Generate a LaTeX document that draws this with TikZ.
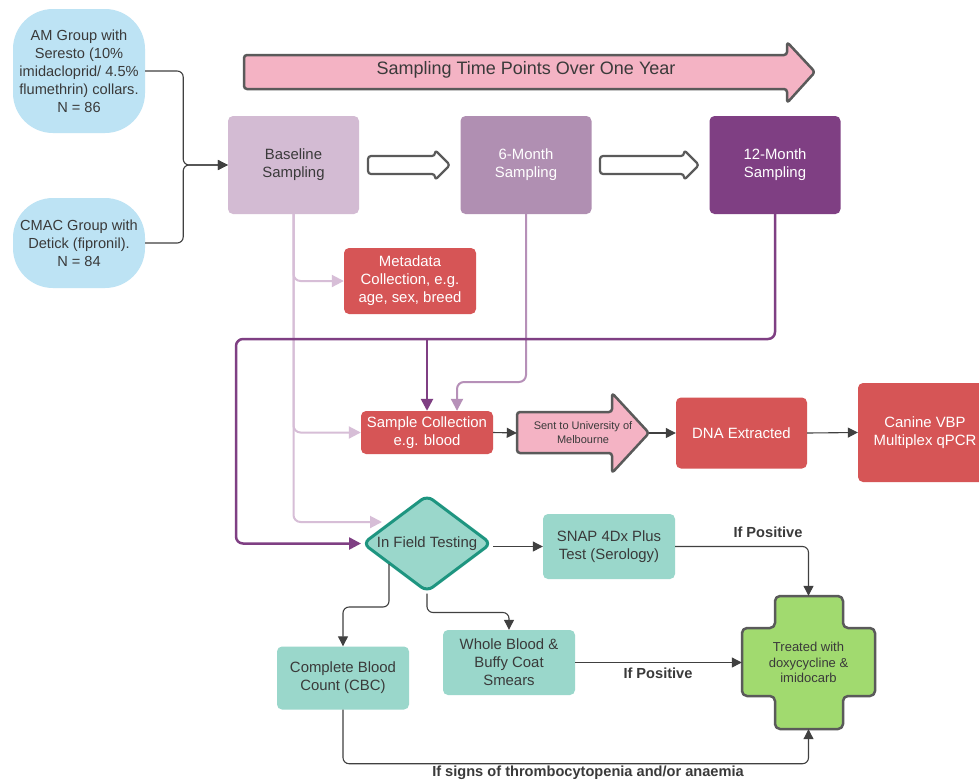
\documentclass[tikz,border=0pt]{standalone}
\usepackage{fontspec}
\setmainfont{Liberation Sans}
\usetikzlibrary{shapes.geometric,arrows.meta}
\definecolor{blueF}{HTML}{BDE3F4}
\definecolor{baseF}{HTML}{D3BBD3}
\definecolor{sixF}{HTML}{B08FB2}
\definecolor{twelveF}{HTML}{7F3F83}
\definecolor{pinkF}{HTML}{F4B3C4}
\definecolor{redF}{HTML}{D65556}
\definecolor{tealF}{HTML}{9AD7CB}
\definecolor{tealD}{HTML}{1E9580}
\definecolor{greenF}{HTML}{A1DA6F}
\definecolor{outl}{HTML}{5A5A5A}
\definecolor{txt}{HTML}{3A3A3A}
\definecolor{lpL}{HTML}{D7BED7}
\definecolor{mpL}{HTML}{B690B8}
\definecolor{connC}{HTML}{404040}
\begin{document}
\begin{tikzpicture}[x=1pt,y=-1pt,
  every node/.style={align=center,inner sep=0pt,text=txt},
  nf/.style={font=\fontsize{14.9}{18}\selectfont},
  grp/.style={font=\fontsize{14.6}{18}\selectfont,fill=blueF,rounded corners=40pt,minimum width=132pt},
  samp/.style={nf,rounded corners=5pt,minimum width=131pt,minimum height=98pt},
  redbox/.style={nf,fill=redF,text=white,rounded corners=5pt},
  tealbox/.style={nf,fill=tealF,rounded corners=5pt},
  shp/.style={draw=outl,line width=2.5pt,rounded corners=3pt,line join=round},
  darrow/.style={draw=connC,line width=1.1pt,rounded corners=6pt,-{Triangle[length=10pt,width=10pt]}},
  parrow/.style={draw=twelveF,line width=2.5pt,rounded corners=7pt,-{Triangle[length=12pt,width=12pt]}},
  marrow/.style={draw=mpL,line width=2pt,rounded corners=7pt,-{Triangle[length=12pt,width=12pt]}},
  larrow/.style={draw=lpL,line width=2pt,rounded corners=7pt,-{Triangle[length=12pt,width=12pt]}},
  lbl/.style={font=\bfseries\fontsize{14.6}{17}\selectfont}
]
\useasboundingbox (0,0) rectangle (979,782);
\fill[white] (0,0) rectangle (979,782);

% big timeline arrow
\draw[shp,fill=pinkF] (244,55) -- (787,55) -- (787,42) -- (815,72) -- (787,103) -- (787,89) -- (244,89) -- cycle;
\node[font=\fontsize{18}{22}\selectfont] (tp) at (526,70) {Sampling Time Points Over One Year};

% groups
\node[grp,minimum height=124pt] (am) at (79,71) {AM Group with\\Seresto (10\%\\imidacloprid/ 4.5\%\\flumethrin) collars.\\N = 86};
\node[grp,minimum height=90pt] (cmac) at (79,243) {CMAC Group with\\Detick (fipronil).\\N = 84};

% sampling boxes
\node[samp,fill=baseF] (base) at (293.5,165) {Baseline\\Sampling};
\node[samp,fill=sixF,text=white] (m6) at (526,165) {6-Month\\Sampling};
\node[samp,fill=twelveF,text=white] (m12) at (775,165) {12-Month\\Sampling};

% block arrows
\draw[shp,fill=white,line width=2.2pt] (368,156) -- (435,156) -- (435,150) -- (450,165) -- (435,180) -- (435,174) -- (368,174) -- cycle;
\draw[shp,fill=white,line width=2.2pt] (600,156) -- (684,156) -- (684,150) -- (699,165) -- (684,180) -- (684,174) -- (600,174) -- cycle;

% red boxes
\node[redbox,minimum width=132pt,minimum height=66pt] (meta) at (410,281) {Metadata\\Collection, e.g.\\age, sex, breed};
\node[redbox,minimum width=132pt,minimum height=43pt] (sc) at (427,432.5) {Sample Collection\\e.g. blood};
\draw[shp,fill=pinkF] (517,412) -- (612,412) -- (612,393) -- (649,433) -- (612,473) -- (612,453) -- (517,453) -- cycle;
\node[font=\fontsize{11}{14}\selectfont,minimum width=132pt,minimum height=40pt] (sent) at (583,433) {Sent to University of\\Melbourne};
\node[redbox,minimum width=131pt,minimum height=71pt] (dna) at (741.5,433) {DNA Extracted};
\node[redbox,minimum width=134pt,minimum height=99pt] (vbp) at (925,432.5) {Canine VBP\\Multiplex qPCR};

% testing
\node[nf,diamond,aspect=1.33,draw=tealD,fill=tealF,line width=3pt,rounded corners=7pt,minimum width=129pt,minimum height=97pt] (ift) at (427,543.5) {In Field Testing};
\node[tealbox,minimum width=132pt,minimum height=65pt] (snap) at (609,546.5) {SNAP 4Dx Plus\\Test (Serology)};
\node[tealbox,minimum width=132pt,minimum height=63pt] (cbc) at (343,678) {Complete Blood\\Count (CBC)};
\node[tealbox,minimum width=132pt,minimum height=65pt] (wb) at (509,662.5) {Whole Blood \&\\Buffy Coat\\Smears};

% treatment cross
\draw[shp,fill=greenF,rounded corners=5pt] (775,596) -- (843,596) -- (843,628) -- (875,628) -- (875,696) -- (843,696) -- (843,729) -- (775,729) -- (775,696) -- (742,696) -- (742,628) -- (775,628) -- cycle;
\node[font=\fontsize{13}{15.5}\selectfont,minimum width=133pt,minimum height=133pt] (tr) at (808.5,662.5) {Treated with\\doxycycline \&\\imidocarb};

% connectors
\draw[darrow] (am.east) -- ++(38,0) |- (base.west);
\draw[darrow] (cmac.east) -- ++(38,0) |- (base.west);

\coordinate (bj) at (382,522);
\draw[larrow] (base.south) |- (bj);
\draw[larrow] (base.south) |- (meta.west);
\draw[larrow] (base.south) |- (sc.west);

\draw[marrow] (m6.south) |- (457,382) -- ([xshift=30pt]sc.north);

\coordinate (j12) at (427,339);
\draw[parrow] (m12.south) |- (236,339) |- (ift.west);
\draw[parrow] (j12) -- (sc.north);

\draw[darrow] (sc.east) -- (sent.west);
\draw[darrow] (sent.east) -- (dna.west);
\draw[darrow] (dna.east) -- (vbp.west);
\draw[darrow] (snap.west -| ift.east) -- (snap.west);
\draw[darrow] (snap.east) -| (tr.north);
\draw[darrow] (wb.east) -- (tr.west);
\draw[darrow] (cbc.south) -- ++(0,54) -| (tr.south);
\draw[darrow] (ift.south) -- ++(0,19) -| (wb.north);
\coordinate (dcb) at (389,564);
\draw[darrow] (dcb) -- ++(0,43) -| (cbc.north);

% labels
\node[lbl] (lp1) at (768,532) {If Positive};
\node[lbl] (lp2) at (658,673) {If Positive};
\node[lbl] (lp3) at (588,773) {If signs of thrombocytopenia and/or anaemia};
\end{tikzpicture}
\end{document}
